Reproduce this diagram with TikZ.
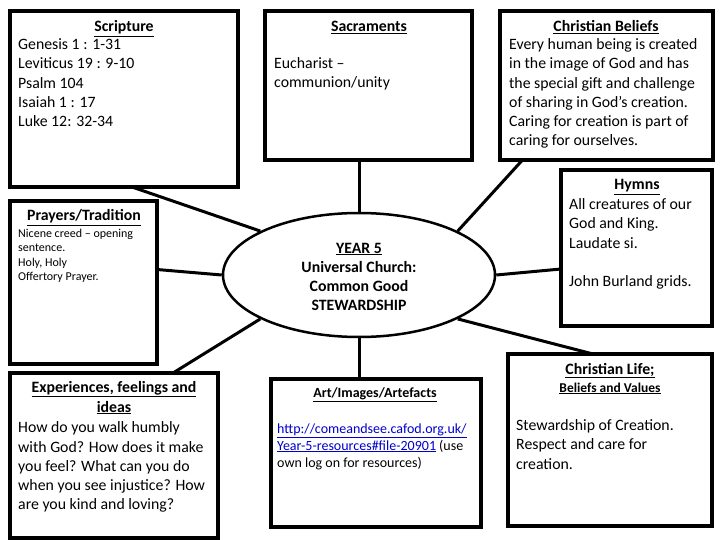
\documentclass[tikz,border=0pt]{standalone}
\usepackage{fontspec}
\setmainfont{Carlito}
\usetikzlibrary{shapes.geometric,positioning,calc}
\definecolor{linkblue}{RGB}{0,0,204}
\newcommand{\bodysize}{\fontsize{15.8}{19.2}\selectfont}

\begin{document}
\begin{tikzpicture}[x=1pt,y=-1pt,
  panel/.style={draw,line width=3.5pt,anchor=north west,inner sep=0pt,outer sep=0pt},
  spoke/.style={line width=3pt},
  head/.style={anchor=base,inner sep=0pt,font=\bodysize\bfseries},
  txt/.style={anchor=north west,inner sep=0pt,align=left,font=\bodysize,
    execute at begin node=\strut,yshift=10.44pt}]
\useasboundingbox (0,0) rectangle (720,540);
% panels
\node[panel,minimum width=228pt,minimum height=176pt] (scrip) at (10,11) {};
\node[panel,minimum width=207pt,minimum height=149pt] (sacr) at (265,11) {};
\node[panel,minimum width=213pt,minimum height=149pt] (belief) at (500,11) {};
\node[panel,minimum width=147pt,minimum height=163pt] (pray) at (10,201) {};
\node[panel,minimum width=151pt,minimum height=156pt] (hymn) at (561,170) {};
\node[panel,minimum width=208pt,minimum height=165pt] (exper) at (10,373) {};
\node[panel,minimum width=210pt,minimum height=148pt] (art) at (271,379) {};
\node[panel,minimum width=204pt,minimum height=172pt] (life) at (508,354) {};
% centre
\node[draw,ellipse,line width=2.5pt,minimum width=272pt,minimum height=124pt,inner sep=0pt,
  align=center,font=\bodysize\bfseries] (core) at (359,275)
  {\rule{0pt}{14pt}\underline{YEAR 5}\\Universal Church:\\Common Good\\STEWARDSHIP};
% spokes
\draw[spoke] (core.north) -- (core.north |- sacr.south);
\draw[spoke] (core.south) -- (core.south |- art.north);
\draw[spoke] (core.156) -- ([xshift=8pt]scrip.south);
\draw[spoke] (core.west) -- ([yshift=13pt]pray.east);
\draw[spoke] (core.204) -- ([xshift=59pt]exper.north);
\draw[spoke] (core.24) -- ([xshift=-84pt]belief.south);
\draw[spoke] (core.east) -- ([yshift=-21pt]hymn.west);
\draw[spoke] (core.336) -- ([xshift=-17pt]life.north);
% Scripture
\node[head] (scripH) at (124,32) {\underline{Scripture}};
\node[txt] (scripT) at (18,49) {Genesis 1 : 1-31\\Leviticus 19 : 9-10\\Psalm 104\\Isaiah 1 : 17\\Luke 12: 32-34};
% Sacraments
\node[head] (sacrH) at (369,32) {\underline{Sacraments}};
\node[txt] (sacrT) at (274,68) {Eucharist --\\communion/unity};
% Christian Beliefs
\node[head] (beliefH) at (606,32) {\underline{Christian Beliefs}};
\node[txt] (beliefT) at (509,49) {Every human being is created\\in the image of God and has\\the special gift and challenge\\of sharing in God’s creation.\\Caring for creation is part of\\caring for ourselves.};
% Prayers
\node[head] (prayH) at (84,221) {\underline{Prayers/Tradition}};
\node[txt,font=\fontsize{12}{14.5}\selectfont,yshift=-4.29pt] (prayT) at (18,235) {Nicene creed -- opening\\sentence.\\Holy, Holy\\Offertory Prayer.};
% Hymns
\node[head] (hymnH) at (637,190) {\underline{Hymns}};
\node[txt] (hymnT) at (569,209) {All creatures of our\\God and King.\\Laudate si.\\[19.2pt]John Burland grids.};
% Experiences
\node[head] (experH) at (114,392) {\underline{Experiences, feelings and}};
\node[head] (experH2) at (114,412) {\underline{ideas}};
\node[txt,font=\fontsize{15.8}{19.3}\selectfont] (experT) at (18,432) {How do you walk humbly\\with God? How does it make\\you feel? What can you do\\when you see injustice? How\\are you kind and loving?};
% Art
\node[head,font=\fontsize{14}{17}\selectfont\bfseries] (artH) at (375,397) {\underline{Art/Images/Artefacts}};
\node[txt,font=\fontsize{14}{17}\selectfont,yshift=-3.54pt] (artT) at (277,430) {\textcolor{linkblue}{\underline{http://comeandsee.cafod.org.uk/}}\\\textcolor{linkblue}{\underline{Year-5-resources\#file-20901}} (use\\own log on for resources)};
% Christian Life
\node[head] (lifeH) at (610,374) {\underline{Christian Life;}};
\node[head,font=\fontsize{13.5}{16}\selectfont\bfseries] (lifeS) at (610,392) {\underline{Beliefs and Values}};
\node[txt] (lifeT) at (516,430) {Stewardship of Creation.\\Respect and care for\\creation.};
\end{tikzpicture}
\end{document}
